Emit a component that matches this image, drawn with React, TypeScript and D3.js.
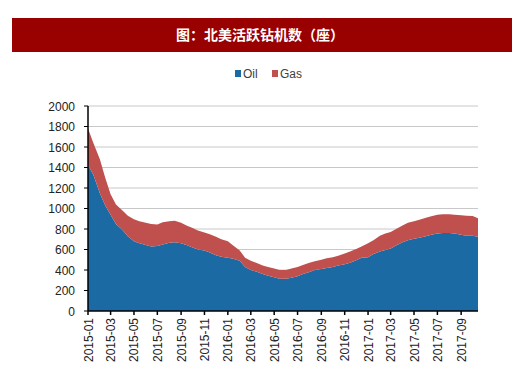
import React, { useMemo } from 'react';
import * as d3 from 'd3';

// semi-monthly readings, 2015-01-01 .. 2017-10-15
const dates = [
  '2015-01-01', '2015-01-15', '2015-02-01', '2015-02-15', '2015-03-01', '2015-03-15',
  '2015-04-01', '2015-04-15', '2015-05-01', '2015-05-15', '2015-06-01', '2015-06-15',
  '2015-07-01', '2015-07-15', '2015-08-01', '2015-08-15', '2015-09-01', '2015-09-15',
  '2015-10-01', '2015-10-15', '2015-11-01', '2015-11-15', '2015-12-01', '2015-12-15',
  '2016-01-01', '2016-01-15', '2016-02-01', '2016-02-15', '2016-03-01', '2016-03-15',
  '2016-04-01', '2016-04-15', '2016-05-01', '2016-05-15', '2016-06-01', '2016-06-15',
  '2016-07-01', '2016-07-15', '2016-08-01', '2016-08-15', '2016-09-01', '2016-09-15',
  '2016-10-01', '2016-10-15', '2016-11-01', '2016-11-15', '2016-12-01', '2016-12-15',
  '2017-01-01', '2017-01-15', '2017-02-01', '2017-02-15', '2017-03-01', '2017-03-15',
  '2017-04-01', '2017-04-15', '2017-05-01', '2017-05-15', '2017-06-01', '2017-06-15',
  '2017-07-01', '2017-07-15', '2017-08-01', '2017-08-15', '2017-09-01', '2017-09-15',
  '2017-10-01', '2017-10-15',
];

const oil = [
  1425, 1330, 1150, 1030, 940, 850, 790, 730, 680, 660, 645, 630,
  635, 650, 665, 670, 660, 645, 620, 600, 590, 570, 545, 530,
  520, 510, 490, 430, 400, 385, 360, 345, 330, 315, 315, 325,
  340, 360, 380, 400, 410, 420, 430, 445, 455, 470, 495, 520,
  525, 555, 580, 595, 610, 640, 670, 690, 705, 715, 730, 745,
  755, 760, 760, 755, 745, 735, 735, 725,
];

const gas = [
  355, 310, 330, 270, 200, 190, 190, 200, 215, 215, 215, 220,
  210, 215, 210, 210, 200, 190, 190, 185, 175, 180, 180, 170,
  160, 130, 100, 90, 90, 85, 85, 85, 85, 85, 85, 90,
  90, 90, 90, 85, 90, 95, 95, 95, 105, 110, 110, 110,
  135, 135, 155, 160, 160, 160, 165, 170, 170, 175, 180, 180,
  185, 185, 185, 185, 190, 195, 193, 180,
];

const yTicks = [0, 200, 400, 600, 800, 1000, 1200, 1400, 1600, 1800, 2000];
const xTickLabels = [
  '2015-01', '2015-03', '2015-05', '2015-07', '2015-09', '2015-11',
  '2016-01', '2016-03', '2016-05', '2016-07', '2016-09', '2016-11',
  '2017-01', '2017-03', '2017-05', '2017-07', '2017-09',
];

const seriesKeys = ['Oil', 'Gas'];
const colors: Record<string, string> = { Oil: '#1c6aa4', Gas: '#c0504d' };

const App: React.FC = () => {
  const width = 520;
  const height = 372;
  const left = 88;
  const right = 478;
  const top = 106;
  const bottom = 311;

  const parse = d3.timeParse('%Y-%m-%d');
  const rows = useMemo(
    () => dates.map((d, i) => ({ date: parse(d) as Date, Oil: oil[i], Gas: gas[i] })),
    []
  );

  const xScale = d3.scaleTime()
    .domain([parse('2015-01-01') as Date, parse('2017-10-15') as Date])
    .range([left, right]);
  const yScale = d3.scaleLinear().domain([0, 2000]).range([bottom, top]);

  const stacked = d3.stack<any>().keys(seriesKeys)(rows);
  const area = d3.area<any>()
    .x(d => xScale(d.data.date))
    .y0(d => yScale(d[0]))
    .y1(d => yScale(d[1]));

  const font = 'Arial, "Liberation Sans", sans-serif';

  return (
    <svg width={width} height={height} style={{ position: 'absolute', left: 0, top: 0 }}>
      <rect x={0} y={0} width={width} height={height} fill="#fff" />
      <rect x={12} y={18} width={500} height={34} fill="#990000" />
      <text x={260} y={40} textAnchor="middle" fill="#fff" fontSize={14} fontWeight="bold"
        fontFamily='"Noto Sans CJK SC", sans-serif'>图：北美活跃钻机数（座）</text>

      {/* legend */}
      <g fontFamily={font} fontSize={12} fill="#404040">
        <rect x={235} y={70} width={6} height={7} fill={colors.Oil} />
        <text x={243} y={78}>Oil</text>
        <rect x={272} y={70} width={6} height={7} fill={colors.Gas} />
        <text x={280} y={78}>Gas</text>
      </g>

      {/* grid */}
      {yTicks.filter(t => t > 0).map(t => (
        <line key={`g-${t}`} x1={left} x2={right} y1={yScale(t)} y2={yScale(t)} stroke="#c8c8c8" strokeWidth={1} />
      ))}

      {stacked.map(s => (
        <path key={s.key} d={area(s) || ''} fill={colors[s.key]} />
      ))}

      {/* y axis */}
      <line x1={left} x2={left} y1={top} y2={bottom} stroke="#000" strokeWidth={1.5} />
      {yTicks.map(t => (
        <g key={`y-${t}`}>
          <line x1={left - 4} x2={left} y1={yScale(t)} y2={yScale(t)} stroke="#000" strokeWidth={1} />
          <text x={left - 13} y={yScale(t) + 4.5} textAnchor="end" fontSize={12} fontFamily={font} fill="#222">{t}</text>
        </g>
      ))}

      {/* x axis */}
      <line x1={left} x2={right} y1={bottom} y2={bottom} stroke="#000" strokeWidth={1.5} />
      {xTickLabels.map(lbl => {
        const x = xScale(parse(lbl + '-01') as Date);
        return (
          <g key={lbl}>
            <line x1={x} x2={x} y1={bottom} y2={bottom + 4} stroke="#000" strokeWidth={1.5} />
            <text transform={`translate(${x + 4.5},${bottom + 7}) rotate(-90)`} textAnchor="end"
              fontSize={12} fontFamily={font} fill="#222">{lbl}</text>
          </g>
        );
      })}
    </svg>
  );
};

export default App;
